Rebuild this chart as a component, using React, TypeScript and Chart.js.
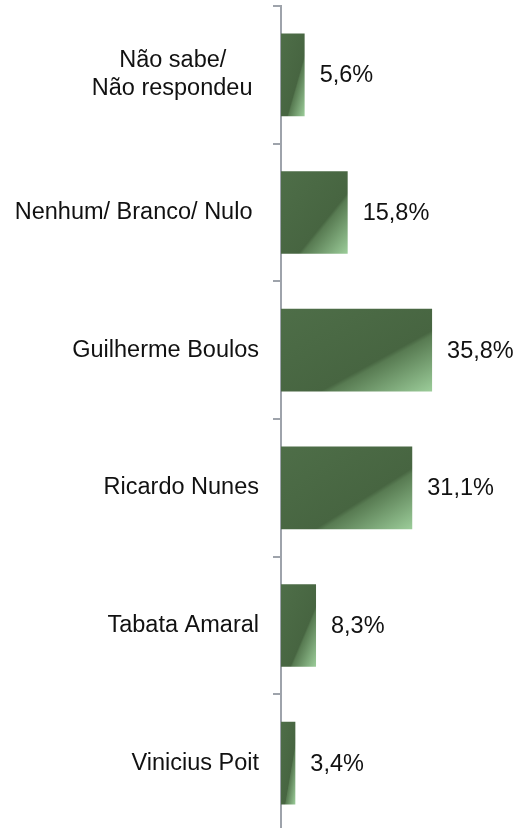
import React, { useEffect, useRef } from "react";
import { Chart, registerables } from "chart.js";

Chart.register(...registerables);

const categories: (string | string[])[] = [
  ["Não sabe/     ", "Não respondeu "],
  "Nenhum/ Branco/ Nulo ",
  "Guilherme Boulos",
  "Ricardo Nunes",
  "Tabata Amaral",
  "Vinicius Poit",
];
const values = [5.6, 15.8, 35.8, 31.1, 8.3, 3.4];

const FONT = "'Liberation Sans', Arial, sans-serif";

const valueLabels = {
  id: "valueLabels",
  afterDatasetsDraw(chart: any) {
    const ctx = chart.ctx;
    const meta = chart.getDatasetMeta(0);
    ctx.save();
    ctx.font = `23.5px ${FONT}`;
    ctx.fillStyle = "#111111";
    ctx.textAlign = "left";
    ctx.textBaseline = "middle";
    meta.data.forEach((bar: any, i: number) => {
      const txt = values[i].toFixed(1).replace(".", ",") + "%";
      ctx.fillText(txt, bar.x + 15, bar.y + 1);
    });
    ctx.restore();
  },
};

function barFill(c: any) {
  const fallback = "#4a6a44";
  const chart = c.chart;
  const xs = chart.scales?.x;
  const ys = chart.scales?.y;
  if (!xs || !ys || c.dataIndex == null || !chart.ctx) return fallback;
  const v = values[c.dataIndex];
  const L = xs.getPixelForValue(0);
  const R = xs.getPixelForValue(v);
  const cy = ys.getPixelForValue(c.dataIndex);
  const band = Math.abs(ys.getPixelForValue(1) - ys.getPixelForValue(0));
  const h = band * 0.6;
  const w = R - L;
  if (![L, R, cy, h, w].every((n) => Number.isFinite(n)) || w <= 0 || h <= 0) return fallback;
  const T = cy - h / 2;
  const n2 = w * w + h * h;
  const x1 = L + (2 * w * h * h) / n2;
  const y1 = T + (2 * w * w * h) / n2;
  const g = chart.ctx.createLinearGradient(L, T, x1, y1);
  g.addColorStop(0, "#4e6e48");
  g.addColorStop(0.63, "#476541");
  g.addColorStop(0.66, "#587b52");
  g.addColorStop(1, "#9ccd9a");
  return g;
}

export default function App() {
  const ref = useRef<HTMLCanvasElement | null>(null);
  useEffect(() => {
    if (!ref.current) return;
    const chart = new Chart(ref.current, {
      type: "bar",
      data: {
        labels: categories,
        datasets: [
          {
            data: values,
            backgroundColor: barFill as any,
            borderWidth: 0,
            categoryPercentage: 1,
            barPercentage: 0.6,
          },
        ],
      },
      options: {
        indexAxis: "y",
        animation: false,
        responsive: true,
        maintainAspectRatio: false,
        layout: { padding: { top: 6, right: 26, bottom: 0, left: 0 } },
        plugins: {
          legend: { display: false },
          tooltip: { enabled: false },
        },
        scales: {
          x: {
            display: false,
            min: 0,
            max: 50,
          },
          y: {
            afterFit: (s: any) => {
              s.width = 281;
              s.paddingTop = 0;
              s.paddingBottom = 0;
            },
            border: { display: true, color: "#9ea3ab", width: 2 },
            grid: {
              display: true,
              drawOnChartArea: false,
              drawTicks: true,
              tickLength: 8,
              color: "#9ea3ab",
              lineWidth: 2,
              offset: true,
            },
            ticks: {
              padding: 14,
              color: "#111111",
              font: { family: FONT, size: 23.5, lineHeight: 1.2 },
            },
          },
        },
      },
      plugins: [valueLabels],
    });
    return () => chart.destroy();
  }, []);
  return (
    <div style={{ position: "fixed", left: 0, top: 0, width: 518, height: 832 }}>
      <canvas ref={ref} />
    </div>
  );
}
